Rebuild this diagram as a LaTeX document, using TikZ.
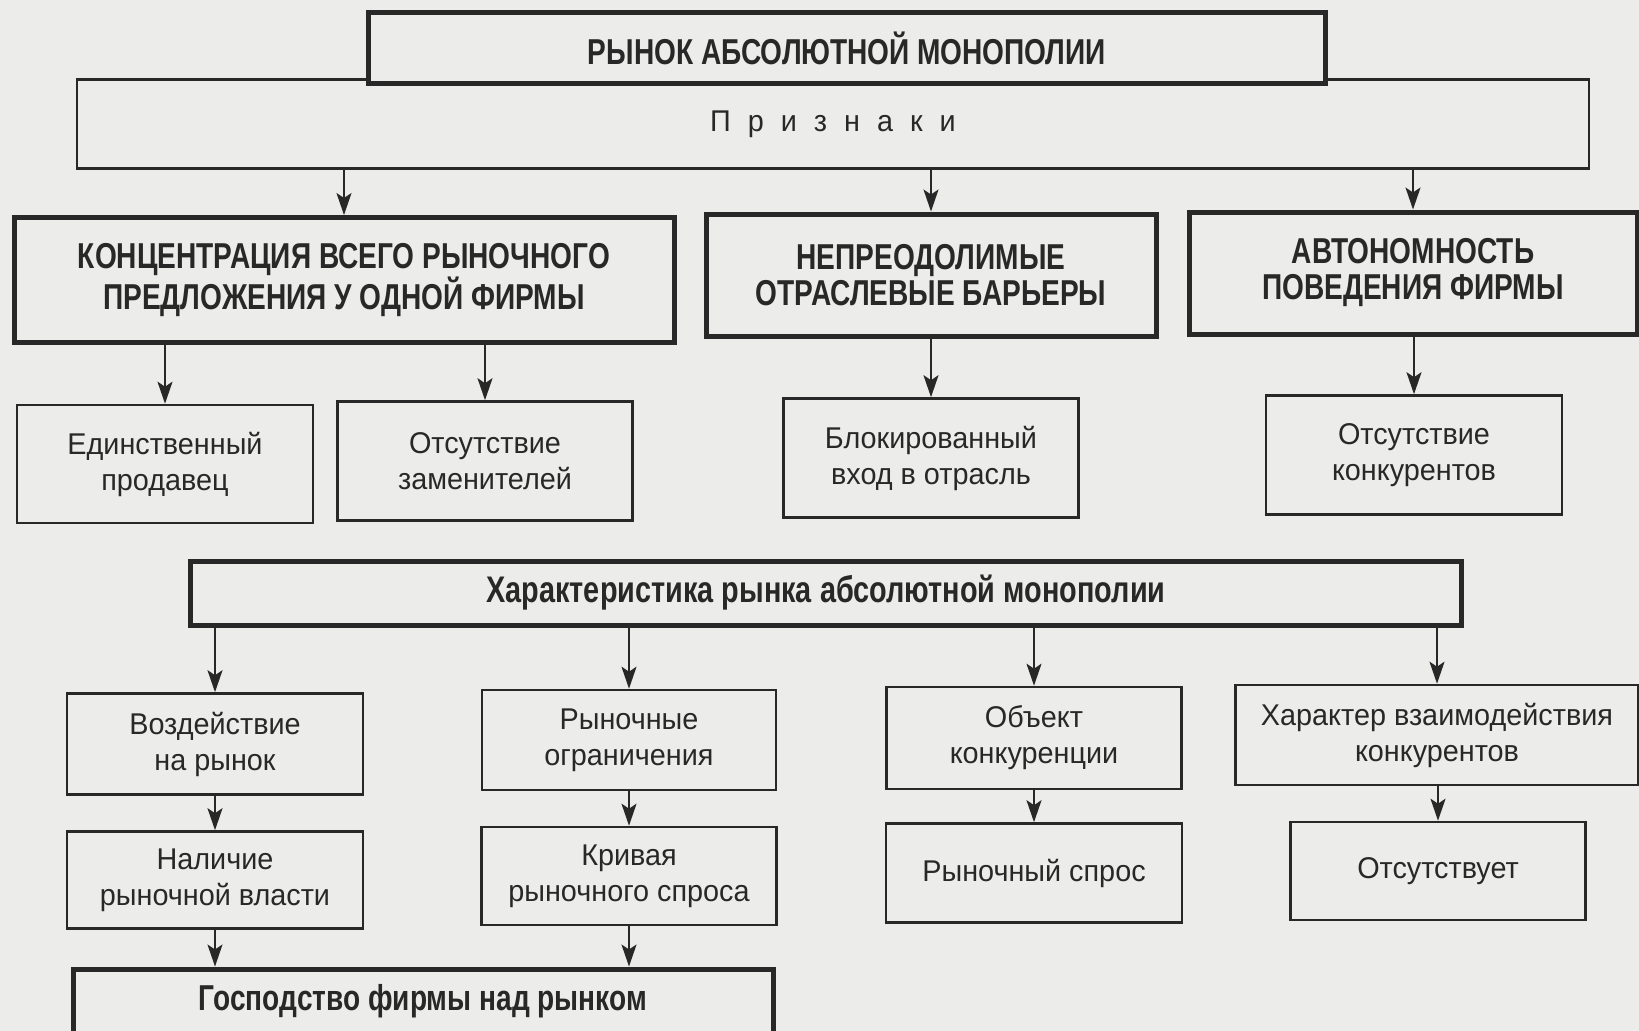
\documentclass[tikz,border=0pt]{standalone}
\usepackage{fontspec}
\setmainfont{Liberation Sans}[FakeStretch=0.96]
\newfontfamily\headfont{Liberation Sans}[FakeStretch=0.78]
\usetikzlibrary{arrows.meta}
\definecolor{ink}{RGB}{40,40,40}
\definecolor{paper}{RGB}{236,236,234}
\newcommand\spaced{\hspace{17pt}}
\tikzset{
  thinbox/.style={draw=ink,line width=2.6pt,fill=paper,text=ink,align=center,inner sep=0pt,
    font=\fontsize{30}{36}\selectfont},
  thickbox/.style={draw=ink,line width=5pt,fill=paper,text=ink,align=center,inner sep=0pt,
    font=\headfont\bfseries\fontsize{36}{36}\selectfont},
  arr/.style={draw=ink,line width=2pt,-{Stealth[length=22pt,width=15pt,inset=5pt]}},
}
\begin{document}
\begin{tikzpicture}[x=1pt,y=-1pt]
  % фон
  \fill[paper] (0,0) rectangle (1639,1031);
  \useasboundingbox (0,0) rectangle (1639,1031);
  % заголовок и признаки
  \node[thinbox,minimum width=1512pt,minimum height=89pt] (priz) at (833,124) {П\spaced р\spaced и\spaced з\spaced н\spaced а\spaced к\spaced и};
  \node[thickbox,minimum width=957pt,minimum height=71pt] (title) at (847,48) {РЫНОК АБСОЛЮТНОЙ МОНОПОЛИИ};
  % признаки
  \node[thickbox,minimum width=660pt,minimum height=125pt] (conc) at (344,280) {КОНЦЕНТРАЦИЯ ВСЕГО РЫНОЧНОГО\\ПРЕДЛОЖЕНИЯ У ОДНОЙ ФИРМЫ};
  \node[thickbox,minimum width=450pt,minimum height=122pt] (barr) at (931,275) {НЕПРЕОДОЛИМЫЕ\\ОТРАСЛЕВЫЕ БАРЬЕРЫ};
  \node[thickbox,minimum width=448pt,minimum height=122pt] (auto) at (1413,273) {АВТОНОМНОСТЬ\\ПОВЕДЕНИЯ ФИРМЫ};
  % следствия признаков
  \node[thinbox,minimum width=296pt,minimum height=118pt] (seller) at (165,464) {Единственный\\продавец};
  \node[thinbox,minimum width=295pt,minimum height=119pt] (subst) at (485,461) {Отсутствие\\заменителей};
  \node[thinbox,minimum width=295pt,minimum height=119pt] (block) at (931,458) {Блокированный\\вход в отрасль};
  \node[thinbox,minimum width=296pt,minimum height=119pt] (rivals) at (1414,455) {Отсутствие\\конкурентов};
  % характеристика
  \node[thickbox,font=\headfont\bfseries\fontsize{37}{36}\selectfont,minimum width=1271pt,minimum height=64pt] (char) at (826,593) {Характеристика рынка абсолютной монополии};
  \node[thinbox,minimum width=296pt,minimum height=101pt] (impact) at (215,744) {Воздействие\\на рынок};
  \node[thinbox,minimum width=294pt,minimum height=100pt] (limits) at (629,740) {Рыночные\\ограничения};
  \node[thinbox,minimum width=295pt,minimum height=102pt] (object) at (1034,738) {Объект\\конкуренции};
  \node[thinbox,minimum width=403pt,minimum height=100pt] (interact) at (1437,735) {Характер взаимодействия\\конкурентов};
  \node[thinbox,minimum width=296pt,minimum height=97pt] (power) at (215,880) {Наличие\\рыночной власти};
  \node[thinbox,minimum width=295pt,minimum height=98pt] (curve) at (629,876) {Кривая\\рыночного спроса};
  \node[thinbox,minimum width=296pt,minimum height=99pt] (demand) at (1034,873) {Рыночный спрос};
  \node[thinbox,minimum width=295pt,minimum height=98pt] (absent) at (1438,871) {Отсутствует};
  \node[thickbox,font=\headfont\bfseries\fontsize{36}{36}\selectfont,minimum width=700pt,minimum height=64pt] (dom) at (423,1001) {Господство фирмы над рынком};
  % стрелки
  \foreach \b in {conc,barr,auto}
    \draw[arr] (\b |- priz.south) -- (\b.north);
  \foreach \a/\b in {conc/seller,conc/subst,barr/block,auto/rivals}
    \draw[arr] (\b |- \a.south) -- (\b.north);
  \foreach \b in {impact,limits,object,interact}
    \draw[arr] (\b |- char.south) -- (\b.north);
  \foreach \a/\b in {impact/power,limits/curve,object/demand,interact/absent}
    \draw[arr] (\b |- \a.south) -- (\b.north);
  \foreach \a in {power,curve}
    \draw[arr] (\a.south) -- (\a |- dom.north);
\end{tikzpicture}
\end{document}
